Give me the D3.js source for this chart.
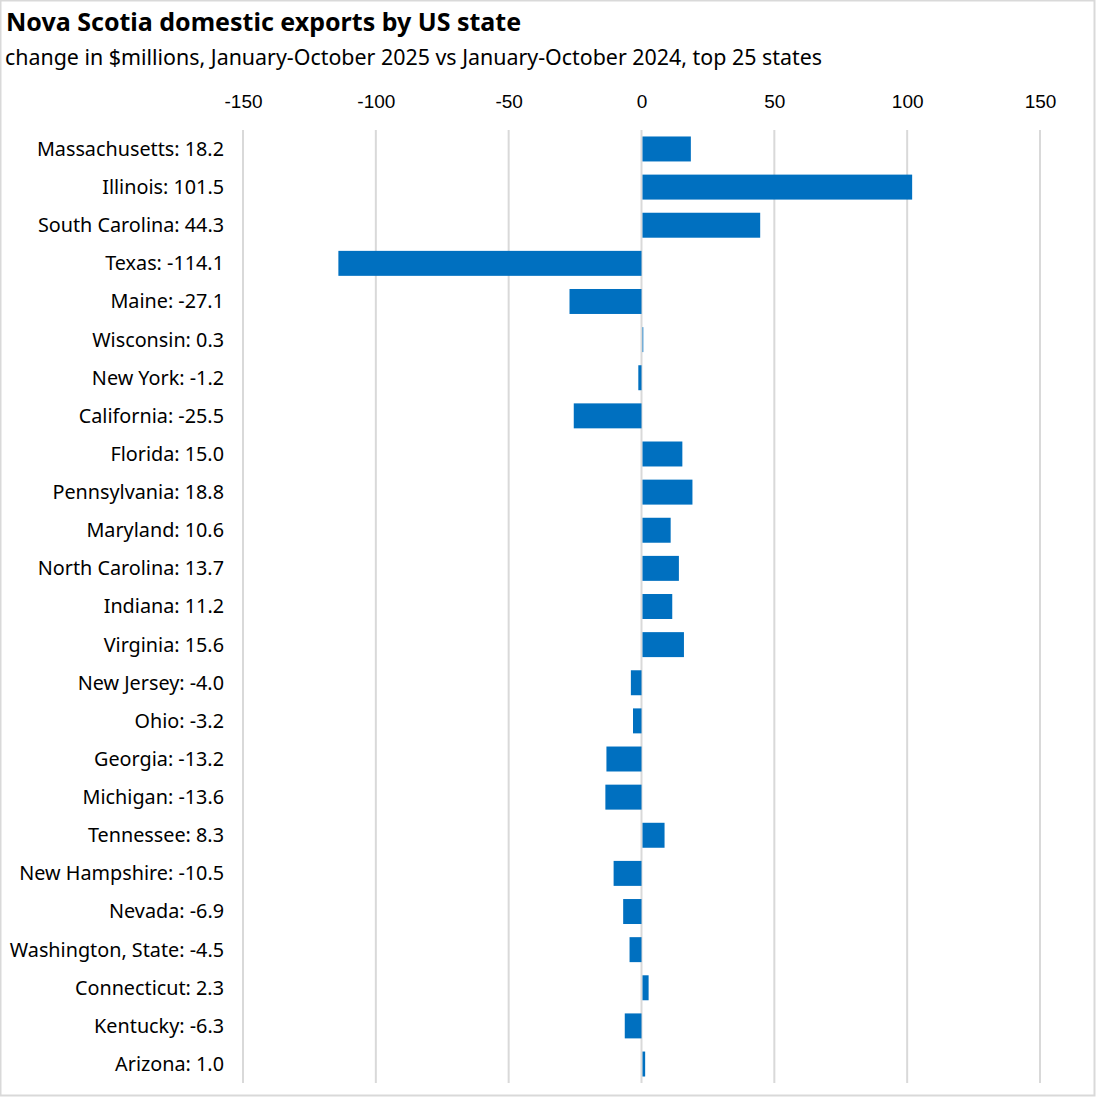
<!DOCTYPE html>
<html>
<head>
<meta charset="utf-8">
<script src="https://cdn.jsdelivr.net/npm/d3@7"></script>
<style>
  body { margin: 0; background: #fff; }
  svg { display: block; }
</style>
</head>
<body>
<script>
(function () {
  'use strict'

  var states = ['Massachusetts', 'Illinois', 'South Carolina', 'Texas', 'Maine', 'Wisconsin',
    'New York', 'California', 'Florida', 'Pennsylvania', 'Maryland', 'North Carolina',
    'Indiana', 'Virginia', 'New Jersey', 'Ohio', 'Georgia', 'Michigan', 'Tennessee',
    'New Hampshire', 'Nevada', 'Washington, State', 'Connecticut', 'Kentucky', 'Arizona']
  var changes = [18.2, 101.5, 44.3, -114.1, -27.1, 0.3, -1.2, -25.5, 15.0, 18.8, 10.6, 13.7,
    11.2, 15.6, -4.0, -3.2, -13.2, -13.6, 8.3, -10.5, -6.9, -4.5, 2.3, -6.3, 1.0]
  var ticks = [-150, -100, -50, 0, 50, 100, 150]

  var w = 1096
  var h = 1097

  var data = states.map(function (s, i) { return { name: s, value: changes[i] } })

  var x = d3.scaleLinear().domain([-150, 150]).range([243, 1040])
  var y = d3.scaleBand()
    .domain(states)
    .range([130, 1083])
    .paddingInner(0.345)
    .paddingOuter(0.17)

  var svg = d3.select('body').append('svg')
    .attr('width', w)
    .attr('height', h)

  // frame
  svg.append('rect')
    .attr('x', 0.5).attr('y', 0.5)
    .attr('width', w - 2).attr('height', h - 2)
    .attr('fill', '#fff')
    .attr('stroke', '#d9d9d9')
    .attr('stroke-width', 2)

  svg.append('text')
    .attr('x', 6).attr('y', 31)
    .attr('font-family', 'Noto Sans, sans-serif')
    .attr('font-weight', 'bold')
    .attr('font-size', 25)
    .attr('fill', '#000')
    .text('Nova Scotia domestic exports by US state')

  svg.append('text')
    .attr('x', 5).attr('y', 65)
    .attr('font-family', 'Noto Sans, sans-serif')
    .attr('font-size', 21.4)
    .attr('fill', '#000')
    .text('change in $millions, January-October 2025 vs January-October 2024, top 25 states')

  // gridlines
  svg.append('g').selectAll('line')
    .data(ticks)
    .enter().append('line')
      .attr('x1', function (d) { return x(d) })
      .attr('x2', function (d) { return x(d) })
      .attr('y1', 130)
      .attr('y2', 1083)
      .attr('stroke', '#d9d9d9')
      .attr('stroke-width', 2)

  // top axis labels
  var axis = svg.append('g')
    .attr('transform', 'translate(0,108)')
    .call(d3.axisTop(x).tickValues(ticks).tickSize(0).tickPadding(0)
      .tickFormat(function (d) { return d3.format('d')(d).replace('−', '-') }))
  axis.select('.domain').remove()
  axis.selectAll('text')
    .attr('font-family', 'Liberation Sans, Arial, sans-serif')
    .attr('font-size', 19)
    .attr('fill', '#000')
    .attr('dy', 0)

  // bars
  svg.append('g').selectAll('rect')
    .data(data)
    .enter().append('rect')
      .attr('x', function (d) { return x(Math.min(0, d.value)) + (d.value > 0 ? 1 : 0) })
      .attr('y', function (d) { return y(d.name) })
      .attr('width', function (d) { return Math.abs(x(d.value) - x(0)) })
      .attr('height', y.bandwidth())
      .attr('fill', '#0070c0')

  // category labels
  svg.append('g').selectAll('text')
    .data(data)
    .enter().append('text')
      .attr('x', 224)
      .attr('y', function (d) { return y(d.name) + y.bandwidth() / 2 })
      .attr('dy', '0.35em')
      .attr('text-anchor', 'end')
      .attr('font-family', 'Noto Sans, sans-serif')
      .attr('font-size', 19.8)
      .attr('fill', '#000')
      .text(function (d) { return d.name + ': ' + d.value.toFixed(1) })
}())
</script>
</body>
</html>
